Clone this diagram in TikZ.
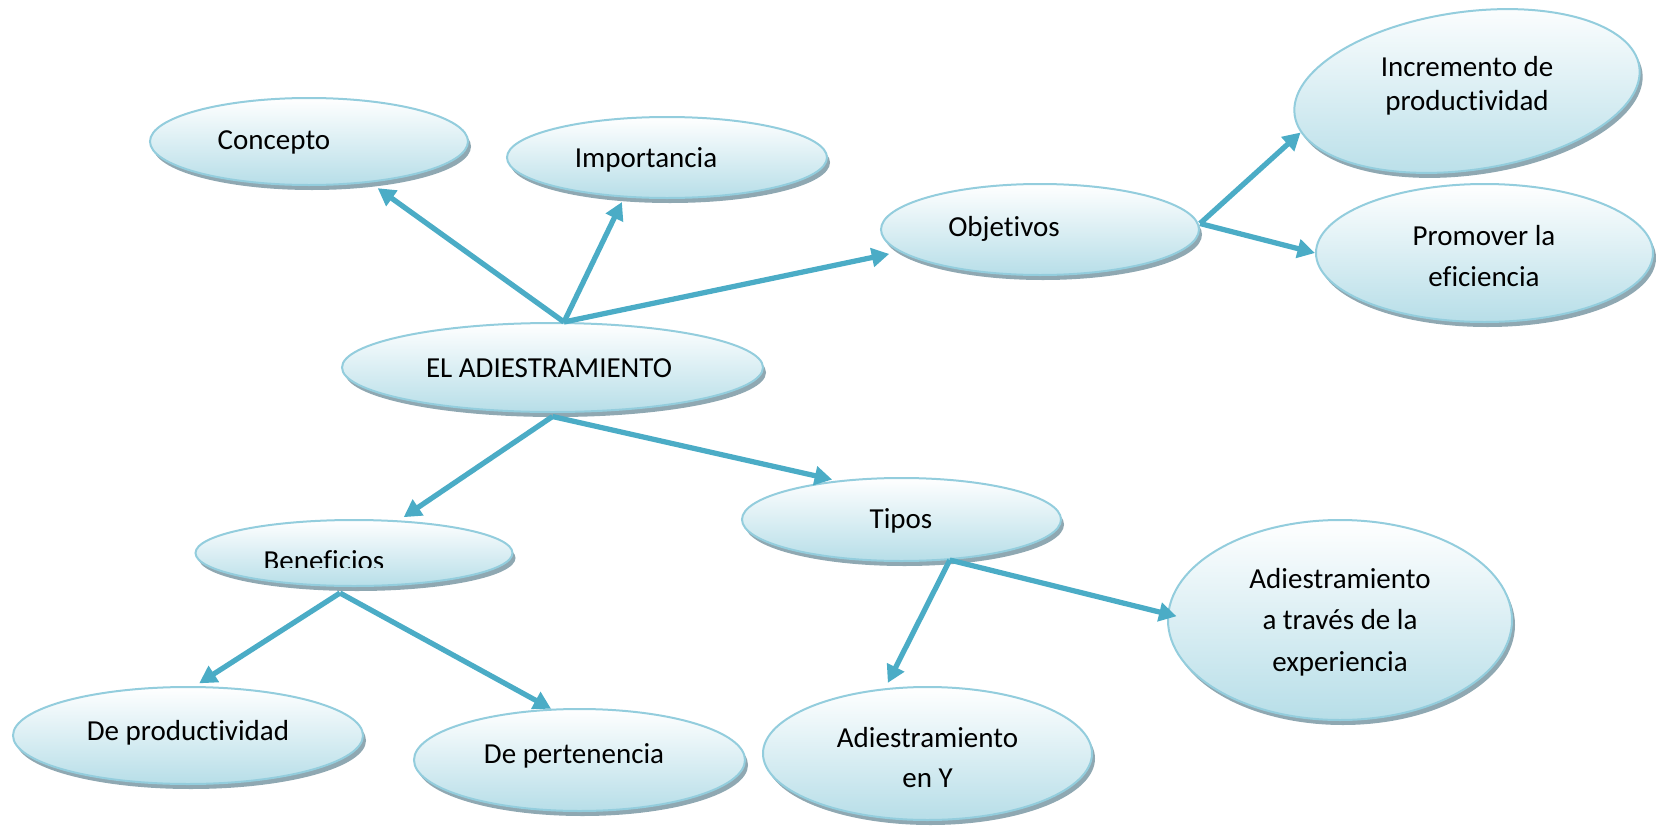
\documentclass[tikz,border=0pt]{standalone}
\usepackage{fontspec}
\setmainfont{Carlito}[Ligatures=NoCommon]
\usetikzlibrary{shapes.geometric,shadows,arrows.meta}
\definecolor{bubbleline}{HTML}{93CDDD}
\definecolor{bubblefill}{HTML}{B7DEE8}
\definecolor{bubbleshadow}{HTML}{8FA8B2}
\definecolor{linkblue}{HTML}{4BACC6}
\begin{document}
\begin{tikzpicture}[x=0.4pt,y=-0.4pt,
    bubble/.style={ellipse, draw=bubbleline, line width=0.8pt, top color=white, bottom color=bubblefill, inner sep=0pt,
      drop shadow={shadow xshift=1.2pt, shadow yshift=-2pt, fill=bubbleshadow, opacity=1}},
    txt/.style={font=\fontsize{11.6}{16.6}\selectfont, align=center, inner sep=0pt},
    link/.style={draw=linkblue, line width=2.1pt, -{Triangle[length=7pt,width=7.4pt]}}]
            \useasboundingbox (0,0) rectangle (1656,827);
            \node[bubble, minimum width=127.2pt, minimum height=34.8pt] (concepto) at (309,141.5) {};
            \node[bubble, minimum width=128pt, minimum height=32.4pt] (importancia) at (667,157.5) {};
            \node[bubble, minimum width=127.2pt, minimum height=36.4pt] (objetivos) at (1040,229.5) {};
            \node[bubble, minimum width=139.2pt, minimum height=63.2pt, rotate=8] (incr) at (1467,91) {};
            \node[bubble, minimum width=134.8pt, minimum height=55.2pt] (promover) at (1484.5,253) {};
            \node[bubble, minimum width=168.4pt, minimum height=35.6pt] (adiest) at (552.5,367.5) {};
            \node[bubble, minimum width=127.6pt, minimum height=33.2pt] (tipos) at (901.5,519.5) {};
            \node[bubble, minimum width=126.8pt, minimum height=26.4pt] (beneficios) at (354,553) {};
            \node[bubble, minimum width=140pt, minimum height=38.8pt] (deprod) at (188,735.5) {};
            \node[bubble, minimum width=132.4pt, minimum height=40.8pt] (deperten) at (579.5,760) {};
            \node[bubble, minimum width=131.6pt, minimum height=53.2pt] (adiesty) at (927.5,753.5) {};
            \node[bubble, minimum width=137.6pt, minimum height=80pt] (experiencia) at (1340,620) {};
            \node[txt] (tconcepto) at (274,142) {Concepto};
            \node[txt] (timportancia) at (646,160) {Importancia};
            \node[txt] (tobjetivos) at (1004,229) {Objetivos};
            \node[txt, font=\fontsize{11.6}{13.6}\selectfont] (tincr) at (1467,86) {Incremento de\\productividad};
            \node[txt] (tpromover) at (1484,256) {Promover la\\eficiencia};
            \node[txt] (tadiest) at (549,368) {EL ADIESTRAMIENTO};
            \node[txt] (ttipos) at (901,521) {Tipos};
            \begin{scope}
                \clip (0,0) rectangle (1656,567);
                \node[txt] (tbeneficios) at (324,561) {Beneficios};
            \end{scope}
            \node[txt] (tdeprod) at (188,733) {De productividad};
            \node[txt] (tdeperten) at (574,756) {De pertenencia};
            \node[txt, font=\fontsize{11.6}{16}\selectfont] (tadiesty) at (927.5,758) {Adiestramiento\\en Y};
            \node[txt] (texperiencia) at (1340,622) {Adiestramiento\\a través de la\\experiencia};
            \coordinate (atop) at ([xshift=4.6pt]adiest.north);
            \coordinate (abot) at ([yshift=-1.4pt]adiest.south);
            \coordinate (oright) at ([yshift=2.4pt]objetivos.east);
            \coordinate (bbot) at ([xshift=-5.6pt,yshift=-2.4pt]beneficios.south);
            \coordinate (tbot) at (tipos.-40);
            \draw[link, shorten >=3.8pt] (atop) -- (concepto.-34);
            \draw[link, shorten >=2pt] (atop) -- (importancia.223);
            \draw[link, shorten >=4.2pt] (atop) -- (objetivos.189);
            \draw[link, shorten >=2.3pt] (abot) -- (beneficios.36);
            \draw[link, shorten >=1.9pt] (abot) -- (tipos.149);
            \draw[link] (oright) -- (incr.186);
            \draw[link] (oright) -- (promover.west);
            \draw[link, shorten >=2pt] (bbot) -- (deprod.82);
            \draw[link] (bbot) -- (deperten.119);
            \draw[link, shorten >=2.4pt] (tbot) -- (adiesty.123);
            \draw[link, shorten >=-3.8pt] (tbot) -- (experiencia.178);
        \end{tikzpicture}
\end{document}
